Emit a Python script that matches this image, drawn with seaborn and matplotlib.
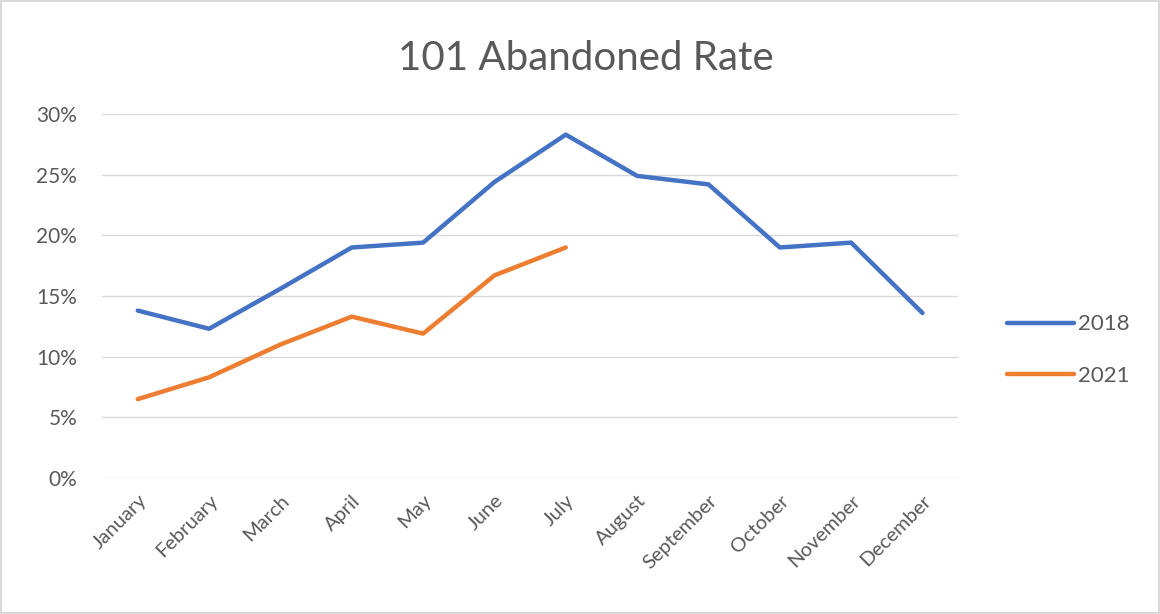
import matplotlib
matplotlib.use("Agg")
import matplotlib.pyplot as plt
from matplotlib.ticker import PercentFormatter
import numpy as np
import pandas as pd
import seaborn as sns

months = ["January", "February", "March", "April", "May", "June", "July",
          "August", "September", "October", "November", "December"]
rate_2018 = [13.8, 12.3, 15.6, 19.0, 19.4, 24.4, 28.3, 24.9, 24.2, 19.0, 19.4, 13.6]
rate_2021 = [6.5, 8.3, 11.0, 13.3, 11.9, 16.7, 19.0, np.nan, np.nan, np.nan, np.nan, np.nan]

df = pd.DataFrame({
    "month": months * 2,
    "pos": list(range(12)) * 2,
    "rate": rate_2018 + rate_2021,
    "year": ["2018"] * 12 + ["2021"] * 12,
})
df = df.dropna()

sns.set_style("white")
plt.rcParams["font.family"] = ["Lato", "DejaVu Sans"]
txt = "#595959"

fig = plt.figure(figsize=(11.6, 6.14), dpi=100)
fig.patch.set_edgecolor("#d9d9d9")
fig.patch.set_linewidth(1.5)
ax = fig.add_axes([0.088, 0.2215, 0.738, 0.5928])

sns.lineplot(data=df, x="pos", y="rate", hue="year", sort=False,
             palette={"2018": "#4472C4", "2021": "#ED7D31"},
             linewidth=3.2, ax=ax)

ax.set_xlim(-0.5, 11.5)
ax.set_ylim(0, 30)
ax.set_yticks(range(0, 31, 5))
ax.yaxis.set_major_formatter(PercentFormatter(decimals=0))
ax.set_xticks(range(12))
ax.set_xticklabels(months, rotation=45, ha="right", rotation_mode="anchor")
ax.tick_params(axis="y", length=0, labelsize=15, colors=txt, pad=18)
ax.tick_params(axis="x", length=0, labelsize=14.5, colors=txt, pad=10)
ax.grid(axis="y", color="#d9d9d9", linewidth=1)
ax.set_axisbelow(True)
for s in ax.spines.values():
    s.set_visible(False)
ax.set_xlabel("")
ax.set_ylabel("")

fig.text(0.505, 0.905, "101 Abandoned Rate", ha="center", va="center",
         fontsize=29, color=txt)

ax.legend(title=None, frameon=False, loc="center left",
          bbox_to_anchor=(0.851, 0.43), bbox_transform=fig.transFigure,
          fontsize=16, handlelength=3.0, labelspacing=1.4, handletextpad=0.2,
          labelcolor=txt)

fig.savefig("out.png", dpi=100)
